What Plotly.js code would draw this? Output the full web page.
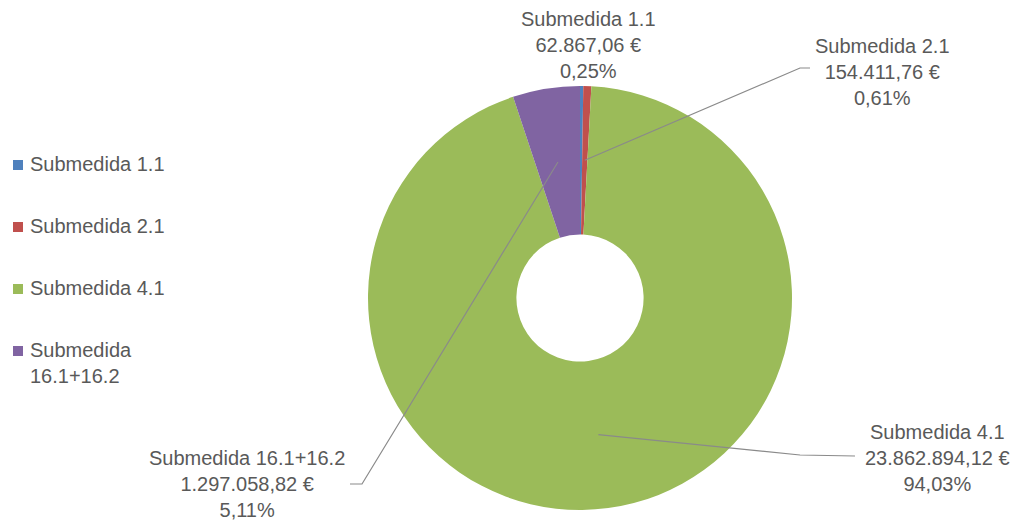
<!DOCTYPE html>
<html>
<head>
<meta charset="utf-8">
<script src="https://cdn.plot.ly/plotly-3.0.1.min.js"></script>
<style>html,body{margin:0;padding:0;background:#fff;}#chart{width:1015px;height:525px;}</style>
</head>
<body>
<div id="chart"></div>
<script>
// ---- data ----
const categories = ['Submedida 1.1', 'Submedida 2.1', 'Submedida 4.1', 'Submedida 16.1+16.2'];
const legendLabels = ['Submedida 1.1', 'Submedida 2.1', 'Submedida 4.1', 'Submedida<br>16.1+16.2'];
const amounts = [62867.06, 154411.76, 23862894.12, 1297058.82];
const colors = ['#4F81BD', '#C0504D', '#9BBB59', '#8064A2'];

// ---- layout helpers ----
const W = 1015, H = 525;
const FONT = '"Liberation Sans Narrow", "Arial Narrow", "Liberation Sans", Arial, sans-serif';
const TXT = '#595959';
const px = x => x / W;
const py = y => 1 - y / H;

const cx = 580, cy = 298, R = 212, holeFrac = 0.30;
const domain = { x: [px(cx - R), px(cx + R)], y: [py(cy + R), py(cy - R)] };

function fmtEuro(v) {
  const parts = v.toFixed(2).split('.');
  const intPart = parts[0].replace(/\B(?=(\d{3})+(?!\d))/g, '.');
  return intPart + ',' + parts[1] + ' €';
}
const total = amounts.reduce((a, b) => a + b, 0);
const pcts = amounts.map(v => (v / total * 100).toFixed(2).replace('.', ',') + '%');

// label placement (pixel positions) and leader line elbows
const labelPos = [
  { x: 588, y: 45, leader: null },
  { x: 882, y: 72, leader: [[800, 68], [810, 68]] },
  { x: 937, y: 458, leader: [[800, 455], [855, 456]] },
  { x: 247, y: 484, leader: [[362, 484], [350, 484]] }
];

// slice mid angles (clockwise from 12 o'clock)
let cum = 0;
const midAngles = amounts.map(v => {
  const a = (cum + v / 2) / total * 2 * Math.PI;
  cum += v;
  return a;
});
const rMid = R * (1 + holeFrac) / 2;

const annotations = [];
const shapes = [];
categories.forEach((c, i) => {
  const lp = labelPos[i];
  annotations.push({
    xref: 'paper', yref: 'paper', x: px(lp.x), y: py(lp.y),
    xanchor: 'center', yanchor: 'middle', showarrow: false,
    text: c + '<br>' + fmtEuro(amounts[i]) + '<br>' + pcts[i],
    font: { family: FONT, size: 20, color: TXT }
  });
  if (lp.leader) {
    const sx = cx + rMid * Math.sin(midAngles[i]);
    const sy = cy - rMid * Math.cos(midAngles[i]);
    const pts = [[sx, sy]].concat(lp.leader);
    const path = pts.map((p, k) => (k ? 'L' : 'M') + px(p[0]).toFixed(5) + ',' + py(p[1]).toFixed(5)).join(' ');
    shapes.push({ type: 'path', xref: 'paper', yref: 'paper', path: path, line: { color: '#8a8a8a', width: 1.2 } });
  }
});

// manual legend
const legY = [165, 227, 289, 351];
legendLabels.forEach((l, i) => {
  shapes.push({ type: 'rect', xref: 'paper', yref: 'paper',
    x0: px(13), x1: px(23), y0: py(legY[i] - 5), y1: py(legY[i] + 5),
    fillcolor: colors[i], line: { width: 0 } });
  annotations.push({
    xref: 'paper', yref: 'paper', x: px(28), y: py(legY[i] - 14),
    xanchor: 'left', yanchor: 'top', align: 'left', showarrow: false,
    text: l, font: { family: FONT, size: 20, color: TXT }
  });
});

const trace = {
  type: 'pie',
  labels: categories,
  values: amounts,
  marker: { colors: colors, line: { width: 0 } },
  hole: holeFrac,
  sort: false,
  direction: 'clockwise',
  rotation: 0,
  textinfo: 'none',
  hoverinfo: 'label+value+percent',
  domain: domain,
  showlegend: false
};

const layout = {
  width: W, height: H,
  margin: { l: 0, r: 0, t: 0, b: 0 },
  paper_bgcolor: '#ffffff',
  showlegend: false,
  annotations: annotations,
  shapes: shapes
};

Plotly.newPlot('chart', [trace], layout, { displayModeBar: false, staticPlot: true });
</script>
</body>
</html>
